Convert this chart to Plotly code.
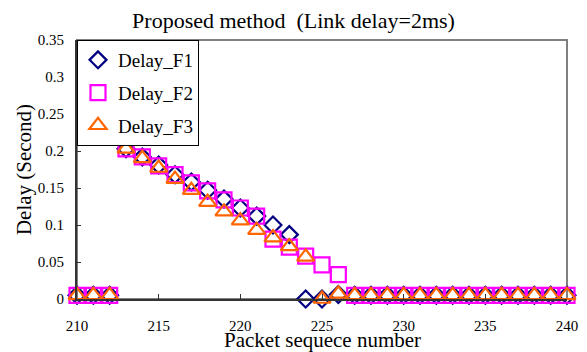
import plotly.graph_objects as go

packets = list(range(210, 241))
delay_f1 = [0.005, 0.005, 0.005, 0.203, 0.192, 0.181, 0.168, 0.158, 0.147, 0.135, 0.123, 0.112, 0.100, 0.087,
            0.0, 0.0, 0.006] + [0.005] * 14
delay_f2 = [0.005, 0.005, 0.005, 0.203, 0.192, 0.180, 0.168, 0.157, 0.146, 0.134, 0.123, 0.112, 0.081, 0.070,
            0.058, 0.046, 0.033] + [0.005] * 14
delay_f3 = [0.005, 0.005, 0.005, 0.203, 0.190, 0.177, 0.162, 0.147, 0.131, 0.118, 0.106, 0.093, 0.083, 0.071,
            0.057, 0.0, 0.007] + [0.005] * 14

x_ticks = [210, 215, 220, 225, 230, 235, 240]
y_ticks = [0, 0.05, 0.1, 0.15, 0.2, 0.25, 0.3, 0.35]

FONT = "Liberation Serif"

fig = go.Figure()
fig.add_trace(go.Scatter(x=packets, y=delay_f1, mode="markers", name="Delay_F1", legendgroup="a",
                         marker=dict(symbol="diamond-open", size=13, color="#000080", line=dict(width=2.2)),
                         cliponaxis=False))
fig.add_trace(go.Scatter(x=packets, y=delay_f2, mode="markers", name="Delay_F2", legendgroup="b",
                         marker=dict(symbol="square-open", size=15, color="#FF00FF", line=dict(width=2.2)),
                         cliponaxis=False))
fig.add_trace(go.Scatter(x=packets, y=delay_f3, mode="markers", name="Delay_F3", legendgroup="c",
                         marker=dict(symbol="triangle-up-open", size=15, color="#FF6600", line=dict(width=2.2)),
                         cliponaxis=False))

fig.add_shape(type="rect", xref="paper", yref="paper", x0=0, x1=1, y0=0, y1=1,
              line=dict(color="#808080", width=2), layer="below")

fig.add_annotation(text="Packet sequece number", xref="paper", yref="paper", x=0.5, y=0,
                   xanchor="center", yanchor="middle", yshift=-41, showarrow=False,
                   font=dict(size=21, family=FONT, color="black"))

fig.update_layout(
    width=587, height=352,
    margin=dict(l=77, r=20, t=40, b=53),
    paper_bgcolor="white", plot_bgcolor="white",
    font=dict(family=FONT, color="black"),
    title=dict(text="Proposed method  (Link delay=2ms)", x=0.5, xref="container", xanchor="center",
               y=0.943, yref="container", yanchor="middle", font=dict(size=22, family=FONT, color="black")),
    showlegend=True,
    legend=dict(x=0, y=1, xanchor="left", yanchor="top", bgcolor="white", bordercolor="black",
                borderwidth=1, font=dict(size=19, family=FONT), tracegroupgap=5,
                itemwidth=30),
)
fig.update_xaxes(range=[210, 240], tickvals=x_ticks, showgrid=False, zeroline=False, automargin=False,
                 showline=True, linecolor="#333333", linewidth=2, ticks="inside", ticklen=5,
                 tickcolor="#333333", ticklabelstandoff=12, tickfont=dict(size=15, family=FONT))
fig.update_yaxes(range=[0, 0.35], tickvals=y_ticks, showgrid=False, zeroline=False, automargin=False,
                 showline=True, linecolor="#333333", linewidth=2, ticks="inside", ticklen=4,
                 tickcolor="#333333", ticklabelstandoff=8, tickfont=dict(size=15, family=FONT),
                 title=dict(text="Delay (Second)", font=dict(size=21, family=FONT), standoff=0))

fig.write_html("out.html")
